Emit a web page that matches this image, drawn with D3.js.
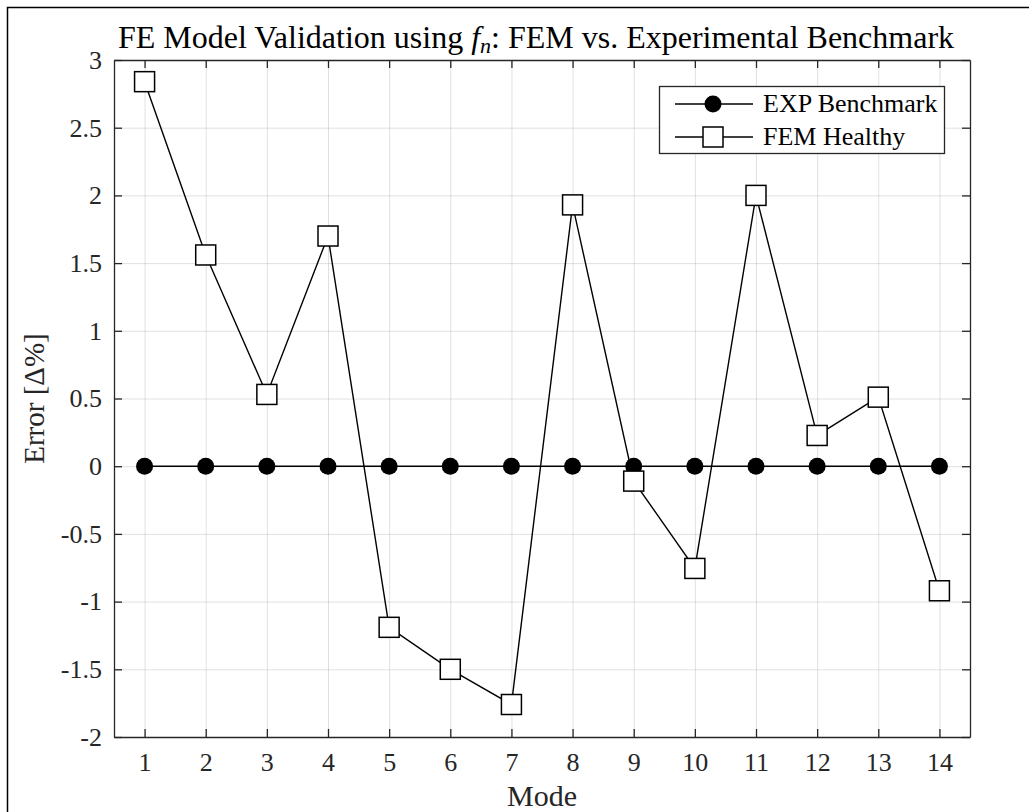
<!DOCTYPE html>
<html>
<head>
<meta charset="utf-8">
<script src="https://cdn.jsdelivr.net/npm/d3@7"></script>
<style>
  body { margin: 0; background: #fff; }
  svg { display: block; }
  .grid line { stroke: #000; stroke-opacity: 0.12; }
  .grid .domain { display: none; }
  .axis .domain { stroke: #262626; stroke-width: 1.3; }
  .axis line { stroke: #262626; stroke-width: 1.3; }
  .axis text { fill: #262626; }
</style>
</head>
<body>
<svg width="1029" height="812"></svg>
<script>

var modes = [1, 2, 3, 4, 5, 6, 7, 8, 9, 10, 11, 12, 13, 14];
var expBenchmark = [0, 0, 0, 0, 0, 0, 0, 0, 0, 0, 0, 0, 0, 0];
var femHealthy = [2.84, 1.56, 0.53, 1.70, -1.19, -1.50, -1.76, 1.93, -0.11, -0.755, 2.00, 0.227, 0.51, -0.92];
var yTicks = [-2, -1.5, -1, -0.5, 0, 0.5, 1, 1.5, 2, 2.5, 3];
var seriesNames = ["EXP Benchmark", "FEM Healthy"];

var serif = "'Liberation Serif', 'Times New Roman', serif";

var svg = d3.select("svg").attr("font-family", serif),
    margin = {top: 60, right: 59, bottom: 75, left: 114},
    width = +svg.attr("width") - margin.left - margin.right,
    height = +svg.attr("height") - margin.top - margin.bottom,
    g = svg.append("g").attr("transform", "translate(" + margin.left + "," + margin.top + ")");

// outer figure frame
svg.append("rect")
    .attr("x", 7.5).attr("y", 7.5)
    .attr("width", 1100).attr("height", 900)
    .attr("fill", "none").attr("stroke", "#000").attr("stroke-width", 1.5);

var x = d3.scaleLinear()
    .domain([0.5, 14.5])
    .range([0, width]);

var y = d3.scaleLinear()
    .domain([-2, 3])
    .range([height, 0]);

var fmt = function(d) { return String(d); };

// grid
g.append("g")
    .attr("class", "grid")
    .attr("transform", "translate(0," + height + ")")
    .call(d3.axisBottom(x).tickValues(modes).tickSize(-height).tickFormat(""));

g.append("g")
    .attr("class", "grid")
    .call(d3.axisLeft(y).tickValues(yTicks).tickSize(-width).tickFormat(""));

// axes, ticks pointing inward on all four sides
g.append("g")
    .attr("class", "axis")
    .attr("transform", "translate(0," + height + ")")
    .call(d3.axisBottom(x).tickValues(modes).tickSizeInner(-8).tickSizeOuter(0).tickPadding(16).tickFormat(fmt))
    .attr("font-family", serif).attr("font-size", 26);

g.append("g")
    .attr("class", "axis")
    .call(d3.axisTop(x).tickValues(modes).tickSizeInner(-8).tickSizeOuter(0).tickFormat(""));

g.append("g")
    .attr("class", "axis")
    .call(d3.axisLeft(y).tickValues(yTicks).tickSizeInner(-8).tickSizeOuter(0).tickPadding(12).tickFormat(fmt))
    .attr("font-family", serif).attr("font-size", 26);

g.append("g")
    .attr("class", "axis")
    .attr("transform", "translate(" + width + ",0)")
    .call(d3.axisRight(y).tickValues(yTicks).tickSizeInner(-8).tickSizeOuter(0).tickFormat(""));

// series
var line = d3.line()
    .x(function(d, i) { return x(modes[i]); })
    .y(function(d) { return y(d); });

g.append("path")
    .datum(expBenchmark)
    .attr("d", line)
    .attr("fill", "none").attr("stroke", "#000").attr("stroke-width", 1.4);

g.selectAll(".exp")
    .data(expBenchmark)
  .enter().append("circle")
    .attr("class", "exp")
    .attr("cx", function(d, i) { return x(modes[i]); })
    .attr("cy", function(d) { return y(d); })
    .attr("r", 8.5)
    .attr("fill", "#000");

g.append("path")
    .datum(femHealthy)
    .attr("d", line)
    .attr("fill", "none").attr("stroke", "#000").attr("stroke-width", 1.4);

g.selectAll(".fem")
    .data(femHealthy)
  .enter().append("rect")
    .attr("class", "fem")
    .attr("x", function(d, i) { return x(modes[i]) - 10; })
    .attr("y", function(d) { return y(d) - 10; })
    .attr("width", 20).attr("height", 20)
    .attr("fill", "#fff").attr("stroke", "#000").attr("stroke-width", 1.5);

// legend
var lg = svg.append("g").attr("transform", "translate(659,86)");
lg.append("rect")
    .attr("x", 0.5).attr("y", 0.5)
    .attr("width", 285).attr("height", 67)
    .attr("fill", "#fff").attr("stroke", "#262626").attr("stroke-width", 1.3);

seriesNames.forEach(function(name, i) {
  var ry = 18 + i * 33;
  lg.append("line")
      .attr("x1", 16).attr("x2", 94).attr("y1", ry).attr("y2", ry)
      .attr("stroke", "#000").attr("stroke-width", 1.4);
  if (i === 0) {
    lg.append("circle").attr("cx", 54).attr("cy", ry).attr("r", 8.5).attr("fill", "#000");
  } else {
    lg.append("rect").attr("x", 44).attr("y", ry - 10).attr("width", 20).attr("height", 20)
        .attr("fill", "#fff").attr("stroke", "#000").attr("stroke-width", 1.5);
  }
  lg.append("text")
      .attr("x", 104).attr("y", ry + 8)
      .attr("font-family", serif)
      .attr("font-size", 26)
      .attr("fill", "#000")
      .text(name);
});

// title
var title = svg.append("text")
    .attr("x", margin.left + width / 2 - 6)
    .attr("y", 48)
    .attr("text-anchor", "middle")
    .attr("font-family", serif)
    .attr("font-size", 32)
    .attr("fill", "#000");
title.append("tspan").text("FE Model Validation using ");
title.append("tspan").attr("font-style", "italic").text("f");
title.append("tspan").attr("font-style", "italic").attr("font-size", 22).attr("dy", 5).text("n");
title.append("tspan").attr("dy", -5).text(": FEM vs. Experimental Benchmark");

// axis labels
svg.append("text")
    .attr("x", margin.left + width / 2)
    .attr("y", 806)
    .attr("text-anchor", "middle")
    .attr("font-family", serif)
    .attr("font-size", 30)
    .attr("fill", "#262626")
    .text("Mode");

svg.append("text")
    .attr("transform", "translate(44," + (margin.top + height / 2) + ") rotate(-90)")
    .attr("text-anchor", "middle")
    .attr("font-family", serif)
    .attr("font-size", 29)
    .attr("fill", "#262626")
    .text("Error [\u0394%]");

</script>
</body>
</html>
